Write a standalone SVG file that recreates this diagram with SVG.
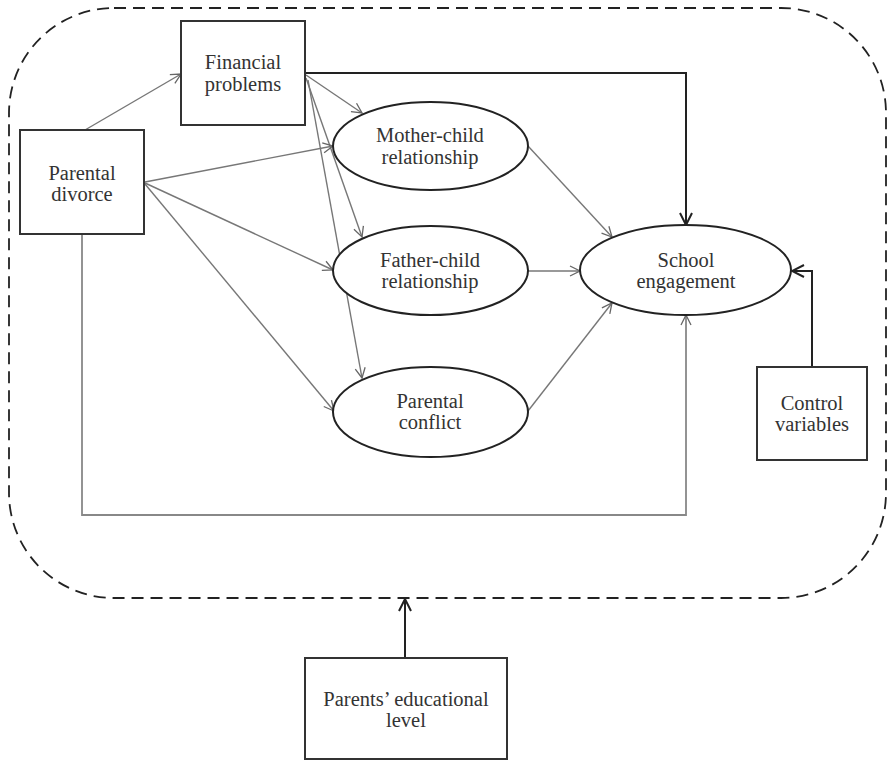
<svg xmlns="http://www.w3.org/2000/svg" width="889" height="761" viewBox="0 0 889 761">
<defs>
<marker id="ah" viewBox="0 0 12 12" refX="11" refY="6" markerWidth="12" markerHeight="12" markerUnits="userSpaceOnUse" orient="auto">
<path d="M1,1 L11,6 L1,11" fill="none" stroke="#666" stroke-width="1.3"/>
</marker>
<marker id="ahb" viewBox="0 0 14 14" refX="13" refY="7" markerWidth="14" markerHeight="14" markerUnits="userSpaceOnUse" orient="auto">
<path d="M1,1 L13,7 L1,13" fill="none" stroke="#222" stroke-width="2"/>
</marker>
</defs>
<style>
.box{fill:#fff;stroke:#333;stroke-width:2}
.ell{fill:#fff;stroke:#222;stroke-width:2}
.t{font-family:"Liberation Serif","Times New Roman",serif;font-size:20.5px;fill:#333;text-anchor:middle}
.thin{fill:none;stroke:#777;stroke-width:1.4;marker-end:url(#ah)}
.thick{fill:none;stroke:#222;stroke-width:2;marker-end:url(#ahb)}
.grey{fill:none;stroke:#888;stroke-width:1.8;marker-end:url(#ah)}
</style>
<rect width="889" height="761" fill="#fff"/>
<rect id="boundary" x="9" y="8" width="877" height="590" rx="105" ry="105" fill="none" stroke="#222" stroke-width="1.8" stroke-dasharray="12,7"/>
<g id="connectors">
<line class="thin" x1="85" y1="130" x2="181" y2="74"/>
<polyline class="thick" points="305,73 686,73 686,225"/>
<line class="thin" x1="306" y1="75" x2="362" y2="113"/>
<line class="thin" x1="306" y1="78" x2="362" y2="237"/>
<line class="thin" x1="308" y1="80" x2="362" y2="378"/>
<line class="thin" x1="145" y1="182" x2="333" y2="146"/>
<line class="thin" x1="145" y1="183" x2="333" y2="270"/>
<line class="thin" x1="145" y1="184" x2="334" y2="411"/>
<polyline class="grey" points="82,234 82,515 686,515 686,315"/>
<line class="thin" x1="528" y1="146" x2="612" y2="237"/>
<line class="thin" x1="528" y1="271" x2="580" y2="271"/>
<line class="thin" x1="528" y1="411" x2="612" y2="303"/>
<polyline class="thick" points="812,367 812,271 792,271"/>
<line class="thick" x1="405" y1="658" x2="405" y2="599"/>
</g>
<g id="financial">
<rect class="box" x="181" y="21" width="124" height="104"/>
<text class="t" x="243" y="69">Financial</text>
<text class="t" x="243" y="91">problems</text>
</g>
<g id="divorce">
<rect class="box" x="20" y="130" width="124" height="104"/>
<text class="t" x="82" y="180">Parental</text>
<text class="t" x="82" y="201">divorce</text>
</g>
<g id="mother">
<ellipse class="ell" cx="430.5" cy="146" rx="97.5" ry="44"/>
<text class="t" x="430" y="142">Mother-child</text>
<text class="t" x="430" y="164">relationship</text>
</g>
<g id="father">
<ellipse class="ell" cx="430.5" cy="270.5" rx="97.5" ry="44.5"/>
<text class="t" x="430" y="267">Father-child</text>
<text class="t" x="430" y="288">relationship</text>
</g>
<g id="conflict">
<ellipse class="ell" cx="430.5" cy="412" rx="97.5" ry="45"/>
<text class="t" x="430" y="408">Parental</text>
<text class="t" x="430" y="429">conflict</text>
</g>
<g id="school">
<ellipse class="ell" cx="685.5" cy="270" rx="105.5" ry="45"/>
<text class="t" x="686" y="267">School</text>
<text class="t" x="686" y="288">engagement</text>
</g>
<g id="control">
<rect class="box" x="757" y="367" width="110" height="93"/>
<text class="t" x="812" y="410">Control</text>
<text class="t" x="812" y="431">variables</text>
</g>
<g id="education">
<rect class="box" x="305" y="658" width="202" height="101"/>
<text class="t" x="406" y="706">Parents’ educational</text>
<text class="t" x="406" y="727">level</text>
</g>
</svg>
